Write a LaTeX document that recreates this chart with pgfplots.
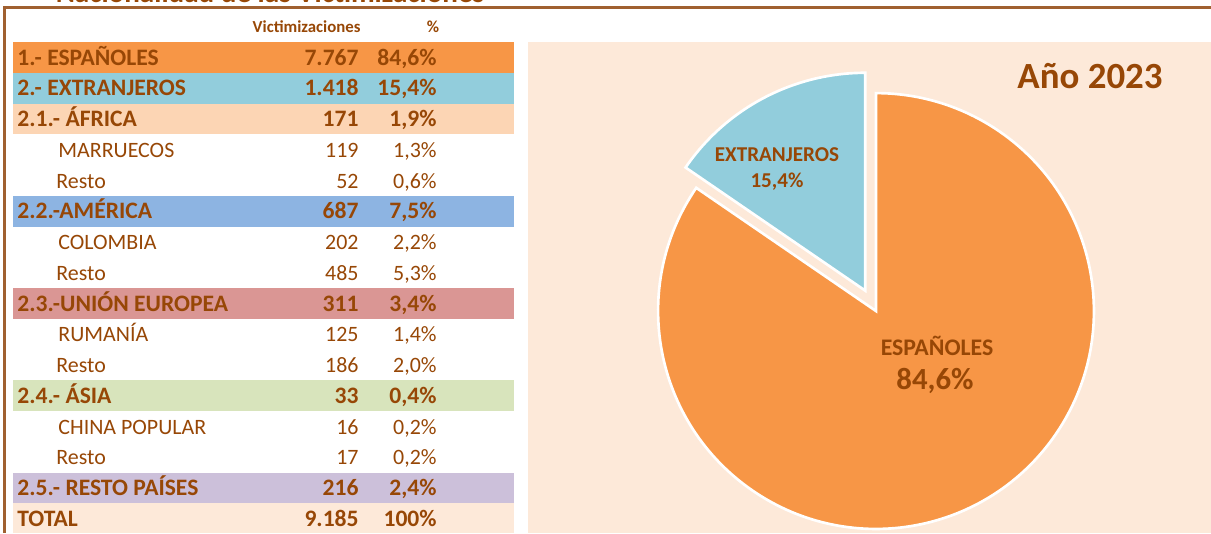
\documentclass[border=0pt]{standalone}
\usepackage{pgfplots}
\pgfplotsset{compat=1.18}
\usepackage{fontspec}
\setmainfont{Carlito}
\definecolor{brn}{HTML}{974706}
\definecolor{frm}{RGB}{160,96,48}
\definecolor{cEsp}{HTML}{F79646}
\definecolor{cExt}{HTML}{92CDDC}
\definecolor{cAfr}{HTML}{FCD5B4}
\definecolor{cAme}{HTML}{8DB4E2}
\definecolor{cUE}{HTML}{DA9694}
\definecolor{cAsi}{HTML}{D8E4BC}
\definecolor{cRes}{HTML}{CCC0DA}
\definecolor{peach}{HTML}{FDE9D9}
\newcommand{\fs}[1]{\fontsize{#1}{#1}\selectfont}
\begin{document}
\begin{tikzpicture}[
  t/.style={text=brn, inner sep=0pt, font=\fs{10.7}},
  tb/.style={text=brn, inner sep=0pt, font=\fs{11.5}\bfseries},
]
\def\vEsp{7767}\def\vExt{1418}
\pgfmathsetmacro{\ang}{\vExt/(\vEsp+\vExt)*360}
\pgfmathsetmacro{\bis}{90+\ang/2}
\def\R{106.3pt}
% row helpers: #1 baseline y, #2 label, #3 number, #4 percent
\newcommand{\brow}[4]{%
  \node[tb, anchor=base west] at (axis cs:17,#1) {#2};
  \node[tb, anchor=base east] at (axis cs:359,#1) {#3};
  \node[tb, anchor=base east] at (axis cs:437,#1) {#4};}
\newcommand{\nrow}[5]{%
  \node[t, anchor=base west] at (axis cs:#5,#1) {#2};
  \node[t, anchor=base east] at (axis cs:359,#1) {#3};
  \node[t, anchor=base east] at (axis cs:437,#1) {#4};}
\begin{axis}[width=590.7pt, height=260pt, scale only axis,
  xmin=0, xmax=1211, ymin=0, ymax=533, y dir=reverse,
  hide axis, clip=false]
% pie panel
\addplot[fill=peach, draw=none] coordinates {(528,42) (1211,42) (1211,533) (528,533)} -- cycle;
% table bands
\addplot[fill=cEsp, draw=none] coordinates {(13,42) (514,42) (514,72.75) (13,72.75)} -- cycle;
\addplot[fill=cExt, draw=none] coordinates {(13,72.75) (514,72.75) (514,103.5) (13,103.5)} -- cycle;
\addplot[fill=cAfr, draw=none] coordinates {(13,103.5) (514,103.5) (514,134.25) (13,134.25)} -- cycle;
\addplot[fill=cAme, draw=none] coordinates {(13,195.75) (514,195.75) (514,226.5) (13,226.5)} -- cycle;
\addplot[fill=cUE, draw=none] coordinates {(13,288) (514,288) (514,318.75) (13,318.75)} -- cycle;
\addplot[fill=cAsi, draw=none] coordinates {(13,380.25) (514,380.25) (514,411) (13,411)} -- cycle;
\addplot[fill=cRes, draw=none] coordinates {(13,472.5) (514,472.5) (514,503.25) (13,503.25)} -- cycle;
\addplot[fill=peach, draw=none] coordinates {(13,503.25) (514,503.25) (514,533) (13,533)} -- cycle;
% frame and title
\draw[frm, line width=1.4pt] (axis cs:4.5,533) -- (axis cs:4.5,7.5) -- (axis cs:1211,7.5);
\node[text=brn, inner sep=0pt, anchor=base, font=\fs{14.2}\bfseries] at (axis cs:270,3) {Nacionalidad de las Victimizaciones};
% header
\node[text=brn, inner sep=0pt, anchor=base east, font=\fs{8.2}\bfseries] at (axis cs:361,32.5) {Victimizaciones};
\node[text=brn, inner sep=0pt, anchor=base, font=\fs{8.2}\bfseries] at (axis cs:433,32.5) {\%};
% rows
\brow{65}{1.- ESPAÑOLES}{7.767}{84,6\%}
\brow{95.75}{2.- EXTRANJEROS}{1.418}{15,4\%}
\brow{126.5}{2.1.- ÁFRICA}{171}{1,9\%}
\nrow{157.25}{MARRUECOS}{119}{1,3\%}{58}
\nrow{188}{Resto}{52}{0,6\%}{56}
\brow{218.75}{2.2.-AMÉRICA}{687}{7,5\%}
\nrow{249.5}{COLOMBIA}{202}{2,2\%}{58}
\nrow{280.25}{Resto}{485}{5,3\%}{56}
\brow{311}{2.3.-UNIÓN EUROPEA}{311}{3,4\%}
\nrow{341.75}{RUMANÍA}{125}{1,4\%}{58}
\nrow{372.5}{Resto}{186}{2,0\%}{56}
\brow{403.25}{2.4.- ÁSIA}{33}{0,4\%}
\nrow{434}{CHINA POPULAR}{16}{0,2\%}{58}
\nrow{464.75}{Resto}{17}{0,2\%}{56}
\brow{495.5}{2.5.- RESTO PAÍSES}{216}{2,4\%}
\brow{526.25}{TOTAL}{9.185}{100\%}
% pie
\filldraw[fill=cEsp, draw=white, line width=1.3pt, line join=miter]
  (axis cs:876,311) -- ++(90+\ang:\R) arc[start angle=90+\ang, end angle=450, radius=\R] -- cycle;
\filldraw[fill=cExt, draw=white, line width=1.3pt, line join=miter]
  ([shift={(\bis:11.2pt)}]axis cs:876,311) -- ++(90:\R) arc[start angle=90, end angle=90+\ang, radius=\R] -- cycle;
% pie labels
\node[text=brn, inner sep=0pt, anchor=base, font=\fs{10.3}\bfseries] at (axis cs:777,161) {EXTRANJEROS};
\node[text=brn, inner sep=0pt, anchor=base, font=\fs{10.3}\bfseries] at (axis cs:777,187) {15,4\%};
\node[text=brn, inner sep=0pt, anchor=base, font=\fs{11.6}\bfseries] at (axis cs:937,355) {ESPAÑOLES};
\node[text=brn, inner sep=0pt, anchor=base, font=\fs{15}\bfseries] at (axis cs:935,389) {84,6\%};
\node[text=brn, inner sep=0pt, anchor=base east, font=\fs{18}\bfseries] at (axis cs:1163,88) {Año 2023};
\end{axis}
\pgfresetboundingbox
\path[use as bounding box] (0,0) rectangle (590.7pt,260pt);
\end{tikzpicture}
\end{document}
